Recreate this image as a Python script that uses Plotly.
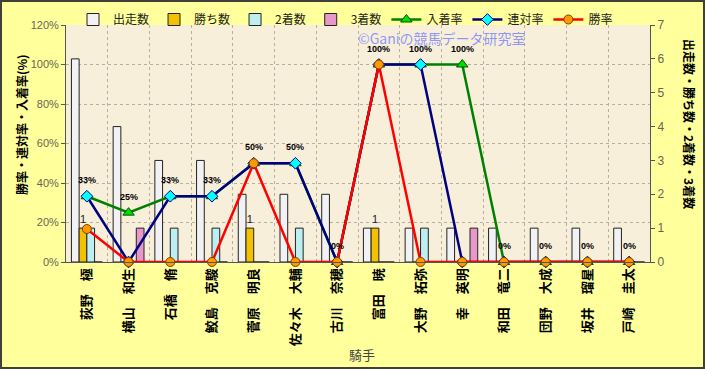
import plotly.graph_objects as go

jockeys = ["荻野　極", "横山　和生", "石橋　脩", "鮫島　克駿", "菅原　明良", "佐々木　大輔", "古川　奈穂",
           "富田　暁", "大野　拓弥", "幸　英明", "和田　竜二", "団野　大成", "坂井　瑠星", "戸崎　圭太"]
starts = [6, 4, 3, 3, 2, 2, 2, 1, 1, 1, 1, 1, 1, 1]
wins = [1, 0, 0, 0, 1, 0, 0, 1, 0, 0, 0, 0, 0, 0]
seconds = [1, 0, 1, 1, 0, 1, 0, 0, 1, 0, 0, 0, 0, 0]
thirds = [0, 1, 0, 0, 0, 0, 0, 0, 0, 1, 0, 0, 0, 0]
place_rate = [0.333, 0.25, 0.333, 0.333, 0.5, 0.5, 0.0, 1.0, 1.0, 1.0, 0.0, 0.0, 0.0, 0.0]
rentai_rate = [0.333, 0.0, 0.333, 0.333, 0.5, 0.5, 0.0, 1.0, 1.0, 0.0, 0.0, 0.0, 0.0, 0.0]
win_rate = [0.167, 0.0, 0.0, 0.0, 0.5, 0.0, 0.0, 1.0, 0.0, 0.0, 0.0, 0.0, 0.0, 0.0]

CJK = "Noto Sans CJK JP"
ARIAL = "Liberation Sans"

fig = go.Figure()
bar_line = dict(color="#222222", width=1)
fig.add_trace(go.Bar(name="出走数", x=jockeys, y=starts, yaxis="y",
                     marker=dict(color="#F2F2F4", line=bar_line)))
fig.add_trace(go.Bar(name="勝ち数", x=jockeys, y=wins, yaxis="y",
                     marker=dict(color="#F2C200", line=bar_line),
                     text=[str(w) if w > 0 else "" for w in wins], textposition="outside",
                     textfont=dict(family=ARIAL, size=11, color="#222222"), cliponaxis=False))
fig.add_trace(go.Bar(name="2着数", x=jockeys, y=seconds, yaxis="y",
                     marker=dict(color="#BDEEF2", line=bar_line)))
fig.add_trace(go.Bar(name="3着数", x=jockeys, y=thirds, yaxis="y",
                     marker=dict(color="#E898C8", line=bar_line)))

fig.add_trace(go.Scatter(name="入着率", x=jockeys, y=place_rate, yaxis="y2", mode="lines+markers",
                         line=dict(color="#008000", width=2.5),
                         marker=dict(symbol="triangle-up", size=10, color="#00E000",
                                     line=dict(color="#005000", width=1)),
                         cliponaxis=False))
fig.add_trace(go.Scatter(name="連対率", x=jockeys, y=rentai_rate, yaxis="y2", mode="lines+markers",
                         line=dict(color="#000080", width=2.5),
                         marker=dict(symbol="diamond", size=9, color="#00FFFF",
                                     line=dict(color="#000080", width=1)), cliponaxis=False))
fig.add_trace(go.Scatter(name="勝率", x=jockeys, y=win_rate, yaxis="y2", mode="lines+markers",
                         line=dict(color="#FF0000", width=2.5),
                         marker=dict(symbol="circle", size=9, color="#FF9900",
                                     line=dict(color="#804000", width=1)), cliponaxis=False))

L, R, T, B = 66, 55, 25, 107
W, H = 705, 369
pw, ph = W - L - R, H - T - B

def px_x(x):
    return (x - L) / pw

def px_y(y):
    return (H - B - y) / ph

annotations = [
    dict(text=f"{round(v * 100)}%", x=j, y=v, xref="x", yref="y2", yshift=16, showarrow=False,
         xanchor="center", yanchor="middle",
         font=dict(family=ARIAL, size=9, color="#000000", weight="bold"))
    for j, v in zip(jockeys, place_rate)
]
annotations += [
    dict(text="勝率・連対率・入着率(%)", xref="paper", yref="paper", x=px_x(22), y=px_y(125),
         textangle=-90, showarrow=False, xanchor="center", yanchor="middle",
         font=dict(family=CJK, size=12, color="#000000", weight="bold")),
    dict(text="出走数・勝ち数・2着数・3着数", xref="paper", yref="paper", x=px_x(690), y=px_y(124),
         textangle=90, showarrow=False, xanchor="center", yanchor="middle",
         font=dict(family=CJK, size=12, color="#000000", weight="bold")),
    dict(text="騎手", xref="paper", yref="paper", x=px_x(362), y=px_y(355),
         showarrow=False, xanchor="center", yanchor="middle",
         font=dict(family=CJK, size=13, color="#444444")),
    dict(text="©Ganiの競馬データ研究室", xref="paper", yref="paper", x=px_x(442), y=px_y(38),
         showarrow=False, xanchor="center", yanchor="middle",
         font=dict(family=CJK, size=14, color="rgba(110,120,255,0.75)")),
]

fig.update_layout(
    width=W, height=H,
    margin=dict(l=L, r=R, t=T, b=B, pad=0, autoexpand=False),
    paper_bgcolor="#FFFF9C",
    plot_bgcolor="#F7EFDA",
    barmode="group", bargap=0.26, bargroupgap=0,
    showlegend=True,
    legend=dict(orientation="h", x=px_x(73), y=px_y(5), xanchor="left", yanchor="top",
                bgcolor="rgba(0,0,0,0)", font=dict(family=CJK, size=12, color="#222222"),
                traceorder="normal", itemwidth=30, tracegroupgap=0),
    xaxis=dict(type="category", range=[-0.5, len(jockeys) - 0.5], tickangle=-90,
               tickson="boundaries", ticks="",
               showgrid=True, gridcolor="#B5B0A0", griddash="dot", gridwidth=1,
               showline=True, linecolor="#555555", linewidth=1,
               tickfont=dict(family=CJK, size=13, color="#000000", weight="bold")),
    yaxis=dict(side="right", range=[0, 7], dtick=1, showgrid=False, zeroline=False,
               showline=True, linecolor="#555555", linewidth=1, ticks="outside", ticklen=4,
               tickcolor="#555555",
               tickfont=dict(family=ARIAL, size=12, color="#666655")),
    yaxis2=dict(side="left", overlaying="y", range=[0, 1.2], dtick=0.2, tickformat=".0%",
                showgrid=True, gridcolor="#B5B0A0", griddash="dot", gridwidth=1, zeroline=False,
                showline=True, linecolor="#555555", linewidth=1, ticks="outside", ticklen=4,
                tickcolor="#555555",
                tickfont=dict(family=ARIAL, size=11, color="#666655")),
    annotations=annotations,
    shapes=[dict(type="rect", xref="paper", yref="paper", x0=px_x(1), x1=px_x(W - 1),
                 y0=px_y(H - 1), y1=px_y(1), line=dict(color="#404038", width=2),
                 fillcolor="rgba(0,0,0,0)", layer="above")],
)

fig.write_html("out.html", config={"displayModeBar": False},
               post_script="document.body.style.margin='0';document.body.style.padding='0';"
                           "document.body.style.overflow='hidden';")
